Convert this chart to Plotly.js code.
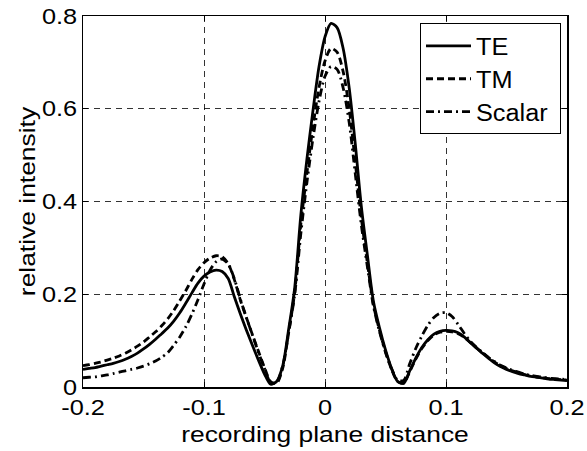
<!DOCTYPE html>
<html>
<head>
<meta charset="utf-8">
<script src="https://cdn.plot.ly/plotly-3.0.1.min.js"></script>
<style>html,body{margin:0;padding:0;background:#fff;}#chart{width:587px;height:451px;}</style>
</head>
<body>
<div id="chart"></div>
<script>
var xPos = [-0.200,-0.195,-0.190,-0.185,-0.180,-0.175,-0.170,-0.165,-0.160,-0.155,
-0.150,-0.145,-0.140,-0.135,-0.130,-0.125,-0.120,-0.115,-0.110,-0.105,
-0.100,-0.095,-0.090,-0.085,-0.080,-0.075,-0.070,-0.065,-0.060,-0.055,
-0.050,-0.045,-0.040,-0.035,-0.030,-0.025,-0.020,-0.015,-0.010,-0.005,
0.000,0.005,0.010,0.015,0.020,0.025,0.030,0.035,0.040,0.045,
0.050,0.055,0.060,0.065,0.070,0.075,0.080,0.085,0.090,0.095,
0.100,0.105,0.110,0.115,0.120,0.125,0.130,0.135,0.140,0.145,
0.150,0.155,0.160,0.165,0.170,0.175,0.180,0.185,0.190,0.195,0.200];

var teVals = [0.038,0.040,0.042,0.045,0.048,0.051,0.055,0.060,0.066,0.073,
0.082,0.092,0.103,0.115,0.127,0.142,0.160,0.181,0.203,0.224,
0.239,0.248,0.252,0.249,0.234,0.195,0.158,0.123,0.090,0.058,
0.028,0.006,0.012,0.045,0.125,0.215,0.370,0.490,0.595,0.690,
0.755,0.784,0.775,0.730,0.645,0.525,0.390,0.285,0.185,0.128,
0.080,0.040,0.012,0.008,0.035,0.062,0.085,0.102,0.114,0.120,
0.122,0.121,0.117,0.108,0.096,0.084,0.073,0.062,0.052,0.044,
0.038,0.033,0.029,0.026,0.023,0.021,0.019,0.017,0.016,0.015,0.014];

var tmVals = [0.046,0.048,0.051,0.054,0.058,0.062,0.067,0.073,0.080,0.088,
0.097,0.108,0.119,0.132,0.147,0.165,0.186,0.208,0.232,0.253,
0.268,0.278,0.283,0.281,0.266,0.232,0.188,0.150,0.113,0.077,
0.042,0.012,0.008,0.040,0.118,0.205,0.350,0.460,0.560,0.645,
0.703,0.730,0.722,0.680,0.600,0.485,0.365,0.268,0.178,0.122,
0.076,0.038,0.012,0.008,0.033,0.060,0.083,0.100,0.112,0.118,
0.120,0.119,0.115,0.107,0.096,0.085,0.074,0.064,0.054,0.046,
0.040,0.035,0.031,0.027,0.024,0.022,0.020,0.018,0.017,0.016,0.015];

var scalarVals = [0.020,0.021,0.022,0.024,0.026,0.029,0.032,0.035,0.038,0.041,
0.045,0.050,0.056,0.064,0.074,0.090,0.108,0.130,0.157,0.188,
0.222,0.252,0.270,0.276,0.265,0.234,0.190,0.150,0.112,0.075,
0.040,0.010,0.010,0.045,0.118,0.200,0.330,0.440,0.535,0.615,
0.670,0.691,0.685,0.645,0.570,0.460,0.350,0.260,0.175,0.120,
0.075,0.040,0.015,0.014,0.050,0.083,0.110,0.133,0.150,0.159,
0.160,0.152,0.135,0.116,0.099,0.086,0.075,0.064,0.055,0.047,
0.041,0.036,0.032,0.028,0.025,0.023,0.021,0.019,0.018,0.017,0.016];

var seriesNames = ["TE", "TM", "Scalar"];
var xTickVals = [-0.2, -0.1, 0, 0.1, 0.2];
var xTickText = ["-0.2", "-0.1", "0", "0.1", "0.2"];
var yTickVals = [0, 0.2, 0.4, 0.6, 0.8];
var yTickText = ["0", "0.2", "0.4", "0.6", "0.8"];

var FONT = "Liberation Sans, Arial, sans-serif";

function mk(y, name, dash) {
  return {
    x: xPos, y: y, name: name, type: "scatter", mode: "lines",
    line: {color: "#000", width: 2.8, dash: dash, shape: "spline", smoothing: 0.8}
  };
}

var data = [
  mk(teVals, seriesNames[0], "solid"),
  mk(tmVals, seriesNames[1], "7px,4px"),
  mk(scalarVals, seriesNames[2], "8px,4px,2px,4px")
];

var axisCommon = {
  showline: true, linecolor: "#000", linewidth: 1.5, mirror: "ticks",
  ticks: "inside", ticklen: 5, tickwidth: 1, tickcolor: "#000",
  showgrid: true, gridcolor: "#000", gridwidth: 0.8, griddash: "6px,5px",
  zeroline: false, tickmode: "array",
  tickfont: {family: FONT, size: 22, color: "#000"}
};

var layout = {
  width: 587, height: 451,
  margin: {l: 83, r: 20, t: 16, b: 64},
  paper_bgcolor: "#fff", plot_bgcolor: "#fff",
  showlegend: true,
  font: {family: FONT, color: "#000"},
  xaxis: Object.assign({}, axisCommon, {
    range: [-0.2, 0.2], tickvals: xTickVals, ticktext: xTickText,
    title: {text: "recording plane distance", font: {family: FONT, size: 22, color: "#000"}, standoff: 7}
  }),
  yaxis: Object.assign({}, axisCommon, {
    range: [0, 0.8], tickvals: yTickVals, ticktext: yTickText,
    title: {text: "relative intensity", font: {family: FONT, size: 22, color: "#000"}, standoff: 5}
  }),
  legend: {
    x: 0.9897, y: 0.98, xanchor: "right", yanchor: "top",
    bgcolor: "#fff", bordercolor: "#000", borderwidth: 1,
    font: {family: FONT, size: 23, color: "#000"},
    itemwidth: 45, tracegroupgap: 0
  }
};

function stretch(nodes, f) {
  Array.prototype.forEach.call(nodes, function (n) {
    var L = n.getComputedTextLength();
    if (L > 0) {
      n.setAttribute("textLength", (L * f).toFixed(2));
      n.setAttribute("lengthAdjust", "spacingAndGlyphs");
    }
  });
}

function fitLegendBox(gd, left, width) {
  var lg = gd.querySelector("g.legend");
  if (!lg) return;
  var bg = lg.querySelector("rect.bg");
  var tr = lg.getAttribute("transform") || "";
  var m = /translate\(\s*([-\d.]+)[ ,]+([-\d.]+)\s*\)/.exec(tr);
  if (!bg || !m) return;
  var bx = parseFloat(bg.getAttribute("x") || "0");
  var bw = 1;
  bg.setAttribute("width", width - bw);
  lg.setAttribute("transform", "translate(" + (left - bx - bw / 2) + "," + m[2] + ")");
  var sb = lg.querySelector("g.scrollbox");
  if (sb) {
    var cp = sb.getAttribute("clip-path") || "";
    var idm = /url\(['"]?#([^'")]+)['"]?\)/.exec(cp);
    if (idm) {
      var cpEl = document.getElementById(idm[1]);
      if (cpEl) {
        var r = cpEl.querySelector("rect");
        if (r) r.setAttribute("width", width + 10);
      }
    }
  }
}

Plotly.newPlot("chart", data, layout, {staticPlot: true, displayModeBar: false}).then(function (gd) {
  stretch(gd.querySelectorAll(".xtick text, .ytick text"), 1.15);
  stretch(gd.querySelectorAll("text.xtitle, text.ytitle"), 1.2);
  stretch(gd.querySelectorAll("text.legendtext"), 1.1);
  fitLegendBox(gd, 421, 141);
});
</script>
</body>
</html>
